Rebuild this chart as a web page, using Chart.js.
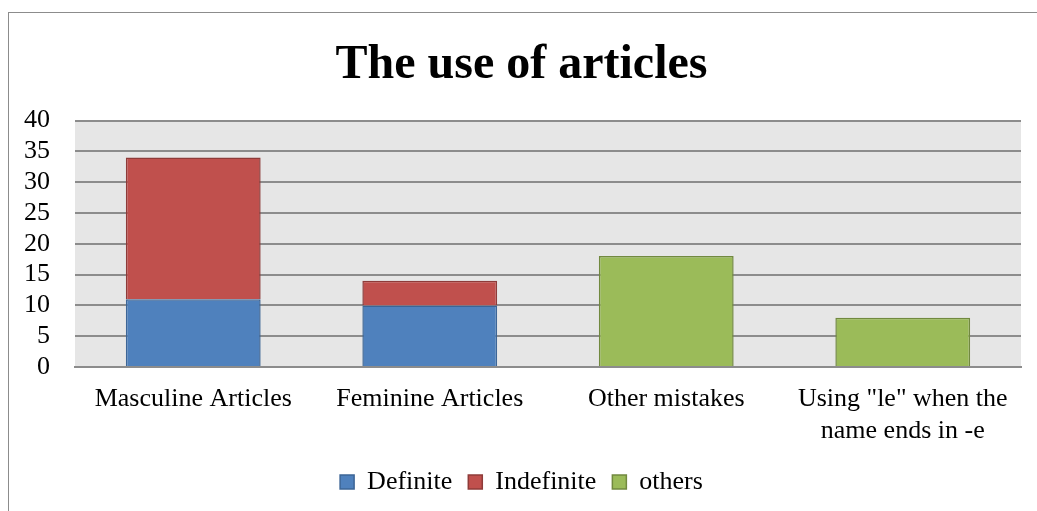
<!DOCTYPE html>
<html>
<head>
<meta charset="utf-8">
<script src="https://cdn.jsdelivr.net/npm/chart.js@4"></script>
<style>
  body { margin: 0; background: #fff; }
  #frame {
    position: absolute; left: 8px; top: 12px;
    width: 1040px; height: 510px;
    border-left: 1px solid #8c8c8c; border-top: 1px solid #8c8c8c;
  }
  #wrap { position: absolute; left: 0; top: 0; width: 1037px; height: 511px; }
</style>
</head>
<body>
<div id="frame"></div>
<div id="wrap"><canvas id="chart"></canvas></div>
<script>
/* dati del grafico */
const categories = ["Masculine Articles", "Feminine Articles", "Other mistakes", ["Using \"le\" when the", "name ends in -e"]];
const definite = [11, 10, null, null];
const indefinite = [23, 4, null, null];
const others = [null, null, 18, 8];
const yTicks = [0, 5, 10, 15, 20, 25, 30, 35, 40];

/* sfondo grigio dell'area del grafico */
const plotBackground = {
  id: "plotBackground",
  beforeDraw(chart) {
    const a = chart.chartArea;
    const ctx = chart.ctx;
    ctx.save();
    ctx.fillStyle = "#e6e6e6";
    ctx.fillRect(a.left, a.top, a.right - a.left, a.bottom - a.top);
    ctx.restore();
  }
};

const serif = "'Liberation Serif', 'Times New Roman', serif";

new Chart(document.getElementById("chart"), {
  type: "bar",
  data: {
    labels: categories,
    datasets: [
      { label: "Definite", data: definite, backgroundColor: "#4f81bd", borderColor: "#3c6596", borderWidth: 1.5 },
      { label: "Indefinite", data: indefinite, backgroundColor: "#c0504d", borderColor: "#8e3b39", borderWidth: 1.5 },
      { label: "others", data: others, backgroundColor: "#9bbb59", borderColor: "#71893f", borderWidth: 1.5 }
    ]
  },
  options: {
    responsive: true,
    maintainAspectRatio: false,
    animation: false,
    layout: { padding: { left: 22, right: 16, top: 37, bottom: 6 } },
    datasets: { bar: { categoryPercentage: 1, barPercentage: 0.57 } },
    plugins: {
      title: {
        display: true,
        text: "The use of articles",
        color: "#000",
        font: { family: serif, size: 48, weight: "bold", lineHeight: 1.2 },
        padding: { top: 0, bottom: 26 }
      },
      legend: {
        position: "bottom",
        labels: {
          color: "#000",
          font: { family: serif, size: 26 },
          boxWidth: 14,
          boxHeight: 14,
          padding: 16
        }
      },
      tooltip: { enabled: false }
    },
    scales: {
      x: {
        stacked: true,
        grid: { display: false },
        border: { color: "#8c8c8c", width: 2 },
        afterFit(scale) { scale.height = 86; },
        ticks: { color: "#000", font: { family: serif, size: 26, lineHeight: 1.2 }, padding: 9, maxRotation: 0 }
      },
      y: {
        stacked: true,
        min: 0,
        max: 40,
        afterFit(scale) { scale.width = 53; },
        afterBuildTicks(scale) { scale.ticks = yTicks.map(v => ({ value: v })); },
        grid: { color: "#8c8c8c", lineWidth: 2, drawTicks: false },
        border: { display: false },
        ticks: { color: "#000", font: { family: serif, size: 26 }, padding: 25, autoSkip: false }
      }
    }
  },
  plugins: [plotBackground]
});
</script>
</body>
</html>
